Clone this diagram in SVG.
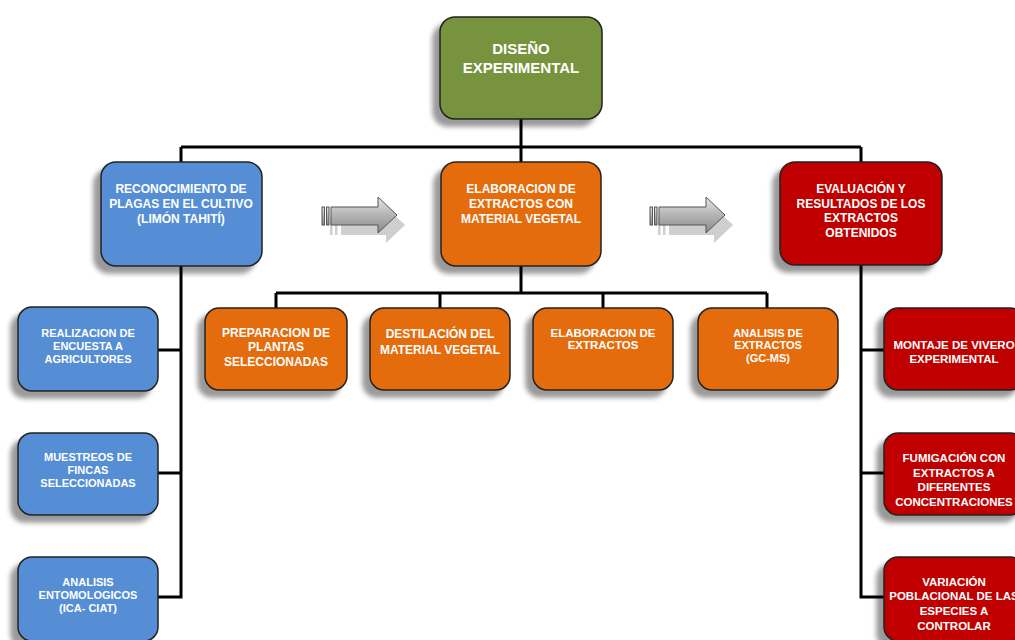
<svg xmlns="http://www.w3.org/2000/svg" width="1015" height="640" viewBox="0 0 1015 640">
<defs>
<filter id="sh" x="-20%" y="-20%" width="140%" height="150%">
<feGaussianBlur in="SourceAlpha" stdDeviation="2.5"/>
<feOffset dx="-7" dy="7" result="o"/>
<feComponentTransfer><feFuncA type="linear" slope="0.4"/></feComponentTransfer>
<feMerge><feMergeNode/><feMergeNode in="SourceGraphic"/></feMerge>
</filter>
<linearGradient id="ag" x1="0" y1="0" x2="0" y2="1">
<stop offset="0" stop-color="#e6e6e6"/>
<stop offset="0.5" stop-color="#b4b4b4"/>
<stop offset="1" stop-color="#8a8a8a"/>
</linearGradient>
<g id="arrow">
<g fill="#cfcfcf" transform="translate(8,10)">
<rect x="322" y="207" width="2.5" height="18"/>
<rect x="327" y="207" width="2.5" height="18"/>
<path d="M333,207 H378 V197 L397,215 L378,233 V225 H333 Z"/>
</g>
<g fill="url(#ag)" stroke="#555" stroke-width="1">
<rect x="322" y="207" width="2.5" height="18"/>
<rect x="326.5" y="207" width="2.5" height="18"/>
<path d="M331,207 H378 V197 L397,215 L378,233 V225 H331 Z"/>
</g>
</g>
</defs>
<style>
.box{stroke:#222;stroke-width:1.5;filter:url(#sh)}
.g{fill:#77933C}.b{fill:#558ED5}.o{fill:#E46C0A}.r{fill:#C00000}
text{font-family:"Liberation Sans",Arial,sans-serif;font-weight:bold;fill:#fff;text-anchor:middle}
.t15{font-size:15px}.t12{font-size:12px}.t11{font-size:11px}.t115{font-size:11.5px}
.c{fill:none;stroke:#000;stroke-width:3}
</style>
<rect width="1015" height="640" fill="#fff"/>

<g id="connectors" class="c">
<path d="M521,119 V147 M181,147 H861 M181,147 V162 M521,147 V162 M861,147 V162"/>
<path d="M521,266 V293 M276,293 H767 M276,293 V308 M440,293 V308 M603,293 V308 M767,293 V308"/>
<path d="M181,266 V597 H158 M181,350 H158 M181,473 H158"/>
<path d="M861,265 V597 H884 M861,350 H884 M861,473 H884"/>
</g>

<g id="arrows">
<use href="#arrow"/>
<use href="#arrow" transform="translate(328,0)"/>
</g>

<g id="n-diseno">
<rect class="box g" x="440" y="17" width="162" height="102" rx="15"/>
<text class="t15" x="521" y="54">DISEÑO</text>
<text class="t15" x="521" y="73">EXPERIMENTAL</text>
</g>

<g id="n-reconocimiento">
<rect class="box b" x="101" y="162" width="161" height="104" rx="15"/>
<text class="t12" x="181" y="193">RECONOCIMIENTO DE</text>
<text class="t12" x="181" y="208">PLAGAS EN EL CULTIVO</text>
<text class="t12" x="181" y="223">(LIMÓN TAHITÍ)</text>
</g>

<g id="n-elaboracion">
<rect class="box o" x="441" y="162" width="160" height="104" rx="15"/>
<text class="t12" x="521" y="193">ELABORACION DE</text>
<text class="t12" x="521" y="208">EXTRACTOS CON</text>
<text class="t12" x="521" y="223">MATERIAL VEGETAL</text>
</g>

<g id="n-evaluacion">
<rect class="box r" x="780" y="162" width="162" height="103" rx="15"/>
<text class="t12" x="861" y="193">EVALUACIÓN Y</text>
<text class="t12" x="861" y="208">RESULTADOS DE LOS</text>
<text class="t12" x="861" y="222">EXTRACTOS</text>
<text class="t12" x="861" y="237">OBTENIDOS</text>
</g>

<g id="n-encuesta">
<rect class="box b" x="18" y="307" width="140" height="84" rx="14"/>
<text class="t11" x="88" y="337">REALIZACION DE</text>
<text class="t11" x="88" y="350">ENCUESTA A</text>
<text class="t11" x="88" y="363">AGRICULTORES</text>
</g>

<g id="n-muestreos">
<rect class="box b" x="18" y="433" width="140" height="82" rx="14"/>
<text class="t11" x="88" y="461">MUESTREOS DE</text>
<text class="t11" x="88" y="474">FINCAS</text>
<text class="t11" x="88" y="487">SELECCIONADAS</text>
</g>

<g id="n-analisis-ento">
<rect class="box b" x="18" y="557" width="140" height="84" rx="14"/>
<text class="t11" x="88" y="586">ANALISIS</text>
<text class="t11" x="88" y="599">ENTOMOLOGICOS</text>
<text class="t11" x="88" y="612">(ICA- CIAT)</text>
</g>

<g id="n-preparacion">
<rect class="box o" x="205" y="308" width="142" height="82" rx="14"/>
<text class="t12" x="276" y="337">PREPARACION DE</text>
<text class="t12" x="276" y="351">PLANTAS</text>
<text class="t12" x="276" y="366">SELECCIONADAS</text>
</g>

<g id="n-destilacion">
<rect class="box o" x="370" y="308" width="140" height="82" rx="14"/>
<text class="t12" x="440" y="338">DESTILACIÓN DEL</text>
<text class="t12" x="440" y="354">MATERIAL VEGETAL</text>
</g>

<g id="n-elab-extractos">
<rect class="box o" x="533" y="308" width="140" height="82" rx="14"/>
<text class="t115" x="603" y="337">ELABORACION DE</text>
<text class="t115" x="603" y="349">EXTRACTOS</text>
</g>

<g id="n-analisis-extractos">
<rect class="box o" x="698" y="308" width="140" height="82" rx="14"/>
<text class="t11" x="768" y="337">ANALISIS DE</text>
<text class="t11" x="768" y="349">EXTRACTOS</text>
<text class="t11" x="768" y="362">(GC-MS)</text>
</g>

<g id="n-montaje">
<rect class="box r" x="884" y="308" width="140" height="82" rx="14"/>
<text class="t115" x="954" y="349">MONTAJE  DE VIVERO</text>
<text class="t115" x="954" y="363">EXPERIMENTAL</text>
</g>

<g id="n-fumigacion">
<rect class="box r" x="884" y="433" width="140" height="82" rx="14"/>
<text class="t115" x="954" y="462">FUMIGACIÓN  CON</text>
<text class="t115" x="954" y="477">EXTRACTOS A</text>
<text class="t115" x="954" y="491">DIFERENTES</text>
<text class="t115" x="954" y="506">CONCENTRACIONES</text>
</g>

<g id="n-variacion">
<rect class="box r" x="884" y="557" width="140" height="84" rx="14"/>
<text class="t115" x="954" y="586">VARIACIÓN</text>
<text class="t115" x="954" y="600">POBLACIONAL DE LAS</text>
<text class="t115" x="954" y="615">ESPECIES A</text>
<text class="t115" x="954" y="630">CONTROLAR</text>
</g>
</svg>
